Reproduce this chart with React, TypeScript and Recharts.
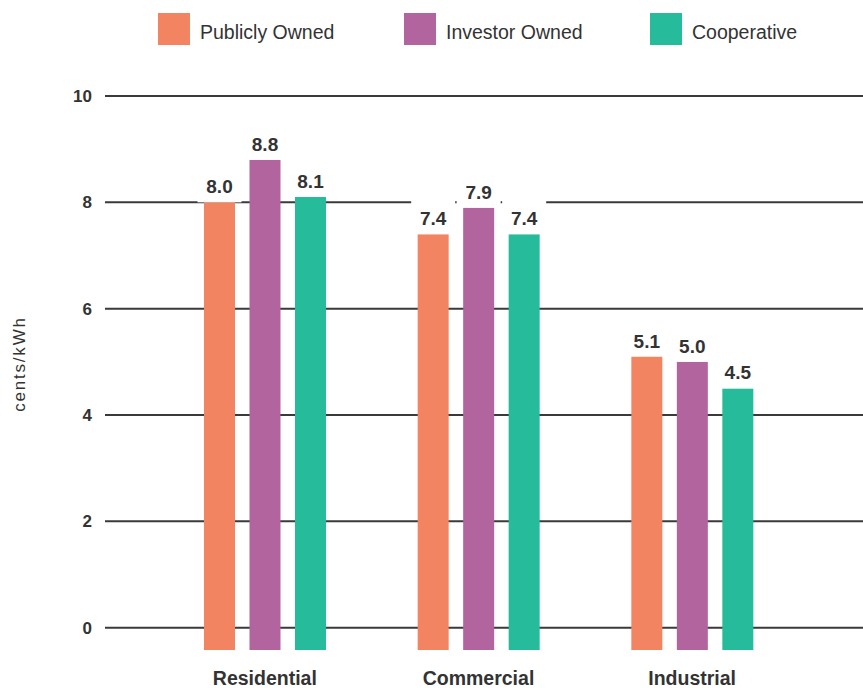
import React from 'react';
import { BarChart, Bar, XAxis, YAxis, CartesianGrid, Legend } from 'recharts';

const categories = ['Residential', 'Commercial', 'Industrial'];
const publiclyOwned = [8.0, 7.4, 5.1];
const investorOwned = [8.8, 7.9, 5.0];
const cooperative = [8.1, 7.4, 4.5];
const yTicks = [0, 2, 4, 6, 8, 10];
const seriesNames = ['Publicly Owned', 'Investor Owned', 'Cooperative'];
const BAR_FLOOR = -0.42;

const COLORS = ['#F38462', '#B2649E', '#26BB9A'];
const TEXT = '#333333';
const FONT = "'Liberation Sans', Arial, sans-serif";

const data = categories.map((c, i) => ({
  category: c,
  publiclyOwned: publiclyOwned[i],
  investorOwned: investorOwned[i],
  cooperative: cooperative[i],
}));

const keys = ['publiclyOwned', 'investorOwned', 'cooperative'];

const makeLabel = (key: string) => (props: any) => {
  const { x, y, width, index } = props;
  const v = (data as any)[index][key] as number;
  const cx = x + width / 2;
  return (
    <g>
      <rect x={cx - 22} y={y - 34} width={44} height={34} fill="#ffffff" />
      <text x={cx} y={y - 9} textAnchor="middle" fontFamily={FONT} fontWeight={700} fontSize={19} fill={TEXT}>
        {v.toFixed(1)}
      </text>
    </g>
  );
};

const XTick = (props: any) => {
  const { x, y, payload } = props;
  return (
    <text x={x} y={y + 27} textAnchor="middle" fontFamily={FONT} fontWeight={700} fontSize={19.5} fill={TEXT}>
      {payload.value}
    </text>
  );
};

const YTick = (props: any) => {
  const { x, y, payload } = props;
  return (
    <text x={x - 5} y={y + 6} textAnchor="end" fontFamily={FONT} fontWeight={700} fontSize={17} fill={TEXT}>
      {payload.value}
    </text>
  );
};

const renderLegend = () => (
  <div style={{ position: 'relative', height: 60, width: 863 }}>
    {seriesNames.map((name, i) => (
      <div key={name} style={{ position: 'absolute', left: 158 + i * 246, top: 13, display: 'flex', alignItems: 'center' }}>
        <div style={{ width: 32, height: 32, background: COLORS[i] }} />
        <span style={{ marginLeft: 10, marginTop: 6, fontFamily: FONT, fontSize: 19.5, color: TEXT, whiteSpace: 'nowrap' }}>{name}</span>
      </div>
    ))}
  </div>
);

const YLabel = (props: any) => {
  const { viewBox } = props;
  const cx = viewBox.x + 19;
  const cy = viewBox.y + viewBox.height / 2 - 9;
  return (
    <text x={cx} y={cy} transform={`rotate(-90 ${cx} ${cy})`} textAnchor="middle" dominantBaseline="central"
      fontFamily={FONT} fontSize={17} letterSpacing={1.8} fill={TEXT}>
      cents/kWh
    </text>
  );
};

export default function App() {
  return (
    <div style={{ position: 'absolute', left: 0, top: 0, background: '#fff' }}>
      <BarChart width={863} height={688} data={data} margin={{ top: 36, right: 0, bottom: 0, left: 0 }}
        barSize={31} barGap={14.5}>
        <Legend verticalAlign="top" align="left" content={renderLegend} wrapperStyle={{ left: 0, top: 0, width: 863, height: 60 }} />
        <CartesianGrid vertical={false} horizontalValues={yTicks} syncWithTicks={false} stroke="#3a3a3a" strokeWidth={2} />
        <XAxis dataKey="category" height={38} axisLine={false} tickLine={false} padding={{ left: 53, right: 64 }} tick={<XTick />} interval={0} />
        <YAxis width={105} domain={[BAR_FLOOR, 10]} ticks={yTicks} axisLine={false} tickLine={false} tick={<YTick />}
          allowDataOverflow label={<YLabel />} />
        {keys.map((k, i) => (
          <Bar key={k} name={seriesNames[i]} dataKey={(d: any) => [BAR_FLOOR, d[k]]} fill={COLORS[i]}
            isAnimationActive={false} label={makeLabel(k)} />
        ))}
      </BarChart>
    </div>
  );
}
